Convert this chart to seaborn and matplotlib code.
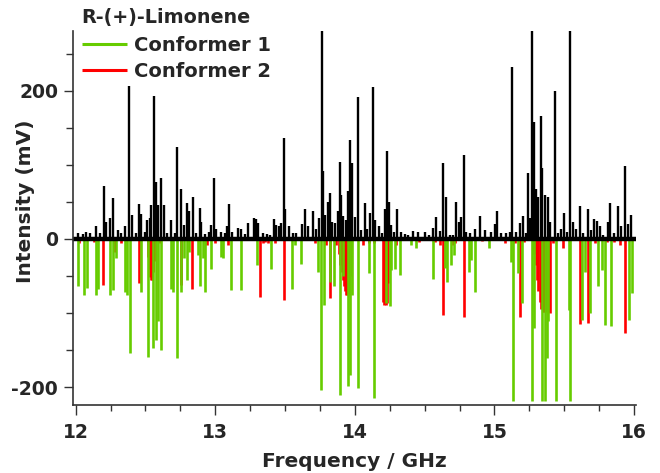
import pandas as pd
import seaborn as sns
import matplotlib.pyplot as plt
from matplotlib.ticker import MultipleLocator

exp_freq = [12.016, 12.052, 12.076, 12.100, 12.148, 12.172, 12.200, 12.219, 12.243, 12.270,
            12.303, 12.327, 12.356, 12.386, 12.403, 12.430, 12.451, 12.470, 12.494, 12.511,
            12.530, 12.542, 12.561, 12.573, 12.589, 12.613, 12.630, 12.654,
            12.685, 12.709, 12.725, 12.757, 12.773, 12.797, 12.814, 12.838, 12.864, 12.888,
            12.900, 12.924, 12.952, 12.971, 12.991, 13.007, 13.043, 13.067, 13.086, 13.098,
            13.122, 13.162, 13.186, 13.210, 13.234, 13.277, 13.294, 13.310, 13.342,
            13.371, 13.395, 13.421, 13.438, 13.457, 13.473, 13.492, 13.502, 13.528, 13.557,
            13.581, 13.619, 13.645, 13.664, 13.700, 13.724, 13.743, 13.762, 13.772, 13.789,
            13.808, 13.820, 13.836, 13.855, 13.877, 13.891, 13.903, 13.915, 13.934, 13.951,
            13.968, 13.982, 13.999, 14.022,
            14.046, 14.075, 14.089, 14.106, 14.129, 14.146, 14.170, 14.194, 14.213, 14.230,
            14.244, 14.261, 14.280, 14.301, 14.332, 14.356, 14.380, 14.416, 14.452, 14.500,
            14.528, 14.559, 14.583, 14.612, 14.631, 14.655, 14.679, 14.702,
            14.727, 14.746, 14.760, 14.779, 14.799, 14.822, 14.863, 14.894, 14.935, 14.973,
            15.006, 15.018, 15.049, 15.085, 15.109, 15.128, 15.157, 15.181, 15.204, 15.224,
            15.240, 15.252, 15.267, 15.283, 15.295, 15.312, 15.331, 15.343, 15.362, 15.384,
            15.400, 15.436, 15.455, 15.479, 15.495, 15.519, 15.541, 15.562, 15.586, 15.610,
            15.634, 15.670, 15.689, 15.713, 15.736, 15.758, 15.777, 15.813, 15.830, 15.856,
            15.884, 15.904, 15.937, 15.956, 15.980]
exp_int = [8, 6, 9, 8, 18, 8, 72, 23, 28, 55,
           12, 8, 17, 206, 32, 8, 47, 33, 10, 26,
           28, 46, 193, 77, 46, 82, 46, 8,
           26, 8, 124, 68, 19, 48, 37, 56, 8, 42,
           23, 7, 10, 19, 82, 14, 10, 8, 17, 47,
           10, 15, 13, 7, 21, 28, 27, 21, 8,
           6, 5, 27, 19, 17, 21, 136, 41, 17, 8,
           8, 20, 41, 17, 38, 14, 28, 290, 91, 32,
           50, 62, 23, 21, 37, 104, 59, 31, 26, 64,
           133, 102, 30, 191,
           12, 48, 14, 35, 205, 26, 17, 8, 40, 118,
           50, 19, 10, 41, 9, 6, 5, 11, 9, 9,
           5, 15, 29, 11, 103, 57, 5, 5,
           50, 23, 29, 113, 10, 8, 13, 31, 12, 9,
           20, 37, 8, 8, 10, 232, 10, 21, 31, 8,
           89, 28, 290, 158, 68, 57, 166, 95, 59, 57,
           23, 200, 8, 14, 35, 10, 290, 23, 13, 44,
           8, 41, 12, 27, 24, 17, 5, 23, 49, 8,
           44, 17, 98, 20, 32]

# simulated lines, conformer 1 (green)
conf1_freq = [12.016, 12.059, 12.081, 12.143, 12.162, 12.248, 12.267, 12.291, 12.356, 12.370,
              12.391, 12.470, 12.518, 12.558, 12.573, 12.589, 12.613,
              12.680, 12.699, 12.728, 12.757, 12.776, 12.797, 12.814, 12.876, 12.890,
              12.909, 12.928, 12.971, 13.038, 13.055, 13.115, 13.186, 13.301,
              13.397, 13.550, 13.569, 13.617, 13.736, 13.760, 13.777, 13.820, 13.848, 13.891,
              13.915, 13.951, 13.968, 13.982,
              14.022, 14.101, 14.134, 14.227, 14.249, 14.261, 14.285, 14.325, 14.404, 14.440,
              14.559, 14.648, 14.662, 14.691, 14.710,
              14.815, 14.834, 14.863, 14.961, 15.121, 15.133, 15.169, 15.200, 15.269, 15.281,
              15.343, 15.360, 15.376, 15.383, 15.438, 15.531, 15.541, 15.631, 15.650, 15.686,
              15.741, 15.770, 15.791, 15.832, 15.963, 15.987]
conf1_int = [-64, -75, -66, -76, -68, -76, -69, -26, -71, -75,
             -154, -71, -159, -147, -136, -111, -150,
             -67, -71, -161, -71, -26, -55, -17, -22, -64,
             -26, -71, -40, -24, -26, -69, -69, -35,
             -40, -67, -8, -34, -44, -204, -89, -58, -64, -210,
             -50, -199, -183, -76,
             -201, -46, -215, -87, -91, -42, -40, -48, -8, -12,
             -54, -39, -58, -35, -22,
             -45, -28, -71, -12, -31, -219, -46, -87, -219, -120,
             -219, -219, -160, -111, -219, -96, -219, -109, -44, -100,
             -64, -42, -116, -118, -109, -73]

# simulated lines, conformer 2 (red)
conf2_freq = [12.025, 12.133, 12.198, 12.285, 12.322, 12.451,
              12.520, 12.528, 12.535, 12.542, 12.550, 12.557, 12.565, 12.605,
              12.752, 12.835, 12.943, 12.995, 13.090, 13.318, 13.343,
              13.355, 13.375, 13.425, 13.492, 13.712, 13.796, 13.820, 13.862,
              13.888, 13.897, 13.905, 13.912, 13.920, 13.928, 13.936, 13.945, 13.955, 13.962,
              14.062, 14.105, 14.141, 14.205, 14.212, 14.220, 14.228, 14.236, 14.297,
              14.463, 14.576, 14.607, 14.631, 14.703,
              14.715, 14.782, 14.913, 15.078, 15.145, 15.180, 15.209,
              15.285, 15.295, 15.305, 15.315, 15.325, 15.335, 15.345, 15.355, 15.370, 15.385,
              15.400, 15.419, 15.490, 15.610, 15.670, 15.718, 15.808, 15.860, 15.901, 15.937]
conf2_int = [-5, -4, -62, -17, -6, -60,
             -25, -40, -52, -55, -55, -45, -30, -6,
             -62, -67, -8, -6, -8, -78, -5,
             -4, -5, -5, -82, -6, -8, -80, -8,
             -20, -35, -45, -55, -63, -70, -76, -76, -76, -50,
             -8, -5, -6, -85, -89, -89, -86, -60, -8,
             -4, -4, -8, -102, -8,
             -6, -105, -3, -6, -6, -105, -4,
             -20, -35, -55, -70, -85, -95, -98, -98, -98, -98,
             -100, -5, -12, -115, -113, -6, -4, -4, -8, -127]

exp = pd.DataFrame({'freq': exp_freq, 'mV': exp_int})
c1 = pd.DataFrame({'freq': conf1_freq, 'mV': conf1_int})
c2 = pd.DataFrame({'freq': conf2_freq, 'mV': conf2_int})

sns.set_theme(style="ticks")
plt.rcParams['font.family'] = ['DejaVu Sans']
plt.rcParams['font.weight'] = 'bold'
plt.rcParams['axes.unicode_minus'] = False

green = '#66cc00'
red = '#ff0000'

fig = plt.figure(figsize=(6.6, 4.73), dpi=100)
ax = fig.add_axes([0.110, 0.1438, 0.8535, 0.7907])

h2 = ax.vlines(c2['freq'], 0, c2['mV'], color=red, lw=1.9, label='Conformer 2')
h1 = ax.vlines(c1['freq'], 0, c1['mV'], color=green, lw=1.9, label='Conformer 1')
ax.vlines(exp['freq'], 0, exp['mV'], color='black', lw=1.7)
ax.axhline(0, color='black', lw=3.2)

ax.set_xlim(11.9785, 16.0136)
ax.set_ylim(-224, 280.5)
ax.xaxis.set_major_locator(MultipleLocator(1))
ax.xaxis.set_minor_locator(MultipleLocator(0.25))
ax.yaxis.set_major_locator(MultipleLocator(200))
ax.yaxis.set_minor_locator(MultipleLocator(50))

sns.despine(ax=ax)
for s in ['left', 'bottom']:
    ax.spines[s].set_color('#333333')
    ax.spines[s].set_linewidth(1.2)

ax.tick_params(axis='x', which='major', length=7, width=1.0, color='#333333',
               labelsize=13.5, pad=6)
ax.tick_params(axis='x', which='minor', length=4.5, width=1.0, color='#333333')
ax.tick_params(axis='y', which='major', length=6.5, width=1.0, color='#333333',
               labelsize=13.5, pad=4)
ax.tick_params(axis='y', which='minor', length=5, width=1.0, color='#333333')

ax.set_xlabel('Frequency / GHz', fontsize=14.5, fontweight='bold')
ax.set_ylabel('Intensity (mV)', fontsize=14.5, fontweight='bold')
ax.xaxis.set_label_coords(0.5, -0.150)
ax.yaxis.set_label_coords(-0.083, 0.545)
ax.xaxis.label.set_va('center')
ax.yaxis.label.set_va('center')

# legend title drawn as its own text so the gap matches the original
fig.text(81 / 660, 1 - 18 / 473, 'R-(+)-Limonene', fontsize=13.8, fontweight='bold',
         ha='left', va='center')
leg = ax.legend(handles=[h1, h2], loc='upper left',
                bbox_to_anchor=(82 / 660, 1 - 36 / 473), bbox_transform=fig.transFigure,
                frameon=False, fontsize=14, borderpad=0, borderaxespad=0,
                handlelength=2.3, handletextpad=0.35, labelspacing=0.36)
for line in leg.get_lines():
    line.set_linewidth(2.2)

fig.savefig('out.png', dpi=100)
